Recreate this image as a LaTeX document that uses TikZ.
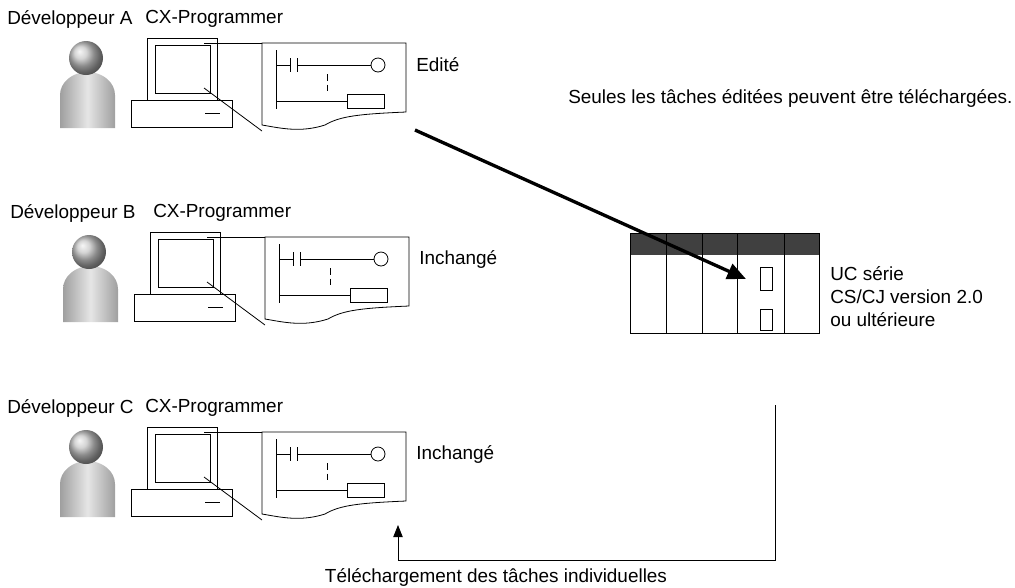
\documentclass[tikz,border=0pt]{standalone}
\usepackage{fontspec}
\setmainfont{Liberation Sans}
\usetikzlibrary{arrows.meta}
\begin{document}
\begin{tikzpicture}[x=0.75pt,y=-0.75pt,
    txt/.style={font=\fontsize{14.2}{17.3}\selectfont, inner sep=0pt},
    thin line/.style={line width=0.6pt}]
  \useasboundingbox (0,0) rectangle (1015,587);

  % developpeurs
  \foreach \dx/\dy/\nom/\etat [count=\i] in {0/0/A/Edité, 3/194/B/Inchangé, 0/389/C/Inchangé}{
    \begin{scope}[shift={(\dx,\dy)}]
      \node[txt, anchor=west] (dev\i) at (7,19) {Développeur \nom};
      \node[txt, anchor=west] (cx\i) at (\ifnum\i=2 150\else 145\fi,19) {CX-Programmer};
      % personne
      \shade[left color=gray!75, right color=gray!75, middle color=gray!20]
        (60,128) -- (60,95) arc[start angle=180, end angle=360, x radius=27.5, y radius=23] -- (115,128) -- cycle;
      \shade[ball color=gray!45] (86,58) circle[radius=17];
      % ordinateur
      \draw[thin line] (147,38) rectangle (217,100);
      \draw[thin line] (155,45) rectangle (210,93);
      \draw[thin line] (131,100) rectangle (232,127);
      \draw[thin line] (205,113) -- (220,113);
      % bulle
      \draw[thin line, fill=white] (262,43) -- (406,43) -- (406,112)
        .. controls (360,114) and (340,116) .. (325,125)
        .. controls (300,133) and (280,128) .. (262,125) -- cycle;
      \draw[thin line] (204,43) -- (262,43);
      \draw[thin line] (204,88) -- (262,131);
      % echelle
      \draw[thin line] (276,50) -- (276,109);
      \draw[thin line] (276,65) -- (290,65) (297,65) -- (371,65);
      \draw[thin line] (290,58) -- (290,72) (297,58) -- (297,72);
      \draw[thin line] (378,65) circle[radius=7];
      \draw[thin line, dash pattern=on 5pt off 3pt] (327,74) -- (327,91);
      \draw[thin line] (276,101) -- (347,101);
      \draw[thin line] (347,94) rectangle (384,108);
      \node[txt, anchor=west] (etat\i) at (416,65) {\etat};
    \end{scope}
  }

  % automate
  \fill[black!75] (630,233) rectangle (819,255);
  \draw[thin line] (630,233) rectangle (819,333);
  \foreach \x in {666,702,737,784}
    \draw[thin line] (\x,233) -- (\x,333);
  \draw[thin line, fill=white] (760,267) rectangle (772,290);
  \draw[thin line, fill=white] (760,309) rectangle (772,330);
  \coordinate (cible) at (746,279);
  \node[txt, anchor=north west, align=left] (uc) at (830,266)
    {UC série\\CS/CJ version 2.0\\ou ultérieure};

  % transferts
  \coordinate (depart) at (415,130);
  \draw[line width=2.5pt, -{Triangle[length=14pt,width=12pt]}] (depart) -- (cible);
  \node[txt, anchor=west] (seules) at (568,98) {Seules les tâches éditées peuvent être téléchargées.};

  \coordinate (haut) at (775,405);
  \coordinate (bas) at (398,525);
  \draw[thin line, -{Triangle[length=9pt,width=7pt]}] (haut) -- (775,560) -- (398,560) -- (bas);
  \node[txt] (tele) at (496,577) {Téléchargement des tâches individuelles};
\end{tikzpicture}
\end{document}
